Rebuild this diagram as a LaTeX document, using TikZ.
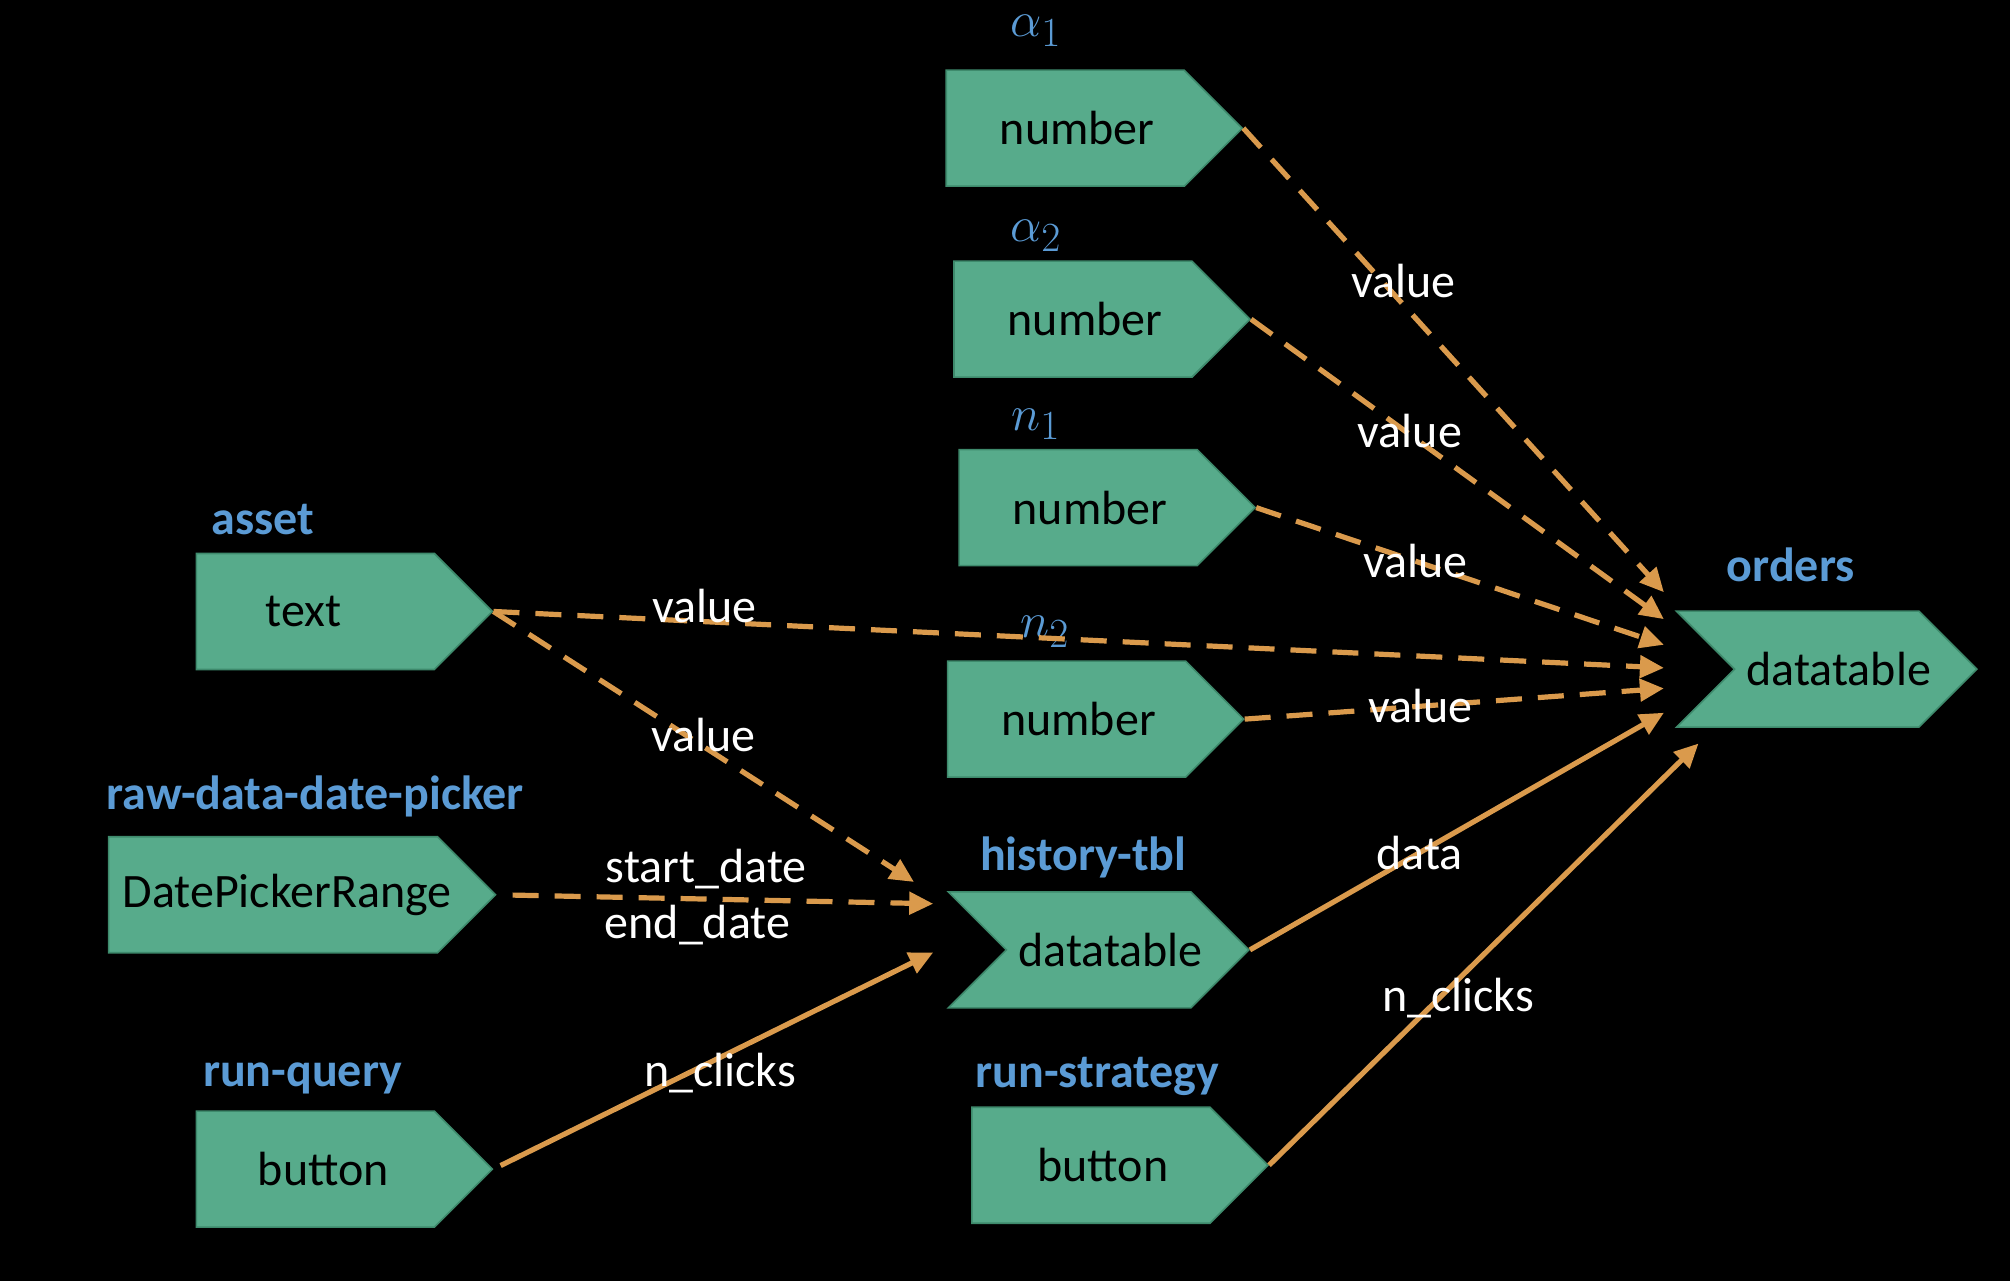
\documentclass[tikz,border=0pt]{standalone}
\usepackage{fontspec}
\setmainfont{Carlito}
\usetikzlibrary{shapes.symbols,arrows.meta}
\definecolor{boxgreen}{RGB}{87,171,139}
\definecolor{boxedge}{RGB}{62,138,108}
\definecolor{wire}{RGB}{218,154,76}
\definecolor{idblue}{RGB}{91,155,213}
\begin{document}
\begin{tikzpicture}[x=0.641pt,y=-0.641pt,font=\fontsize{24}{28}\selectfont,
  >={Triangle[length=12pt,width=11pt]},
  compbox/.style={signal,signal to=east,signal pointer angle=90,fill=boxgreen,draw=boxedge,
    line width=0.8pt,minimum height=58pt,minimum width=148pt,inner sep=0pt,text=black},
  tblbox/.style={compbox,signal from=west},
  textshift/.style={execute at begin node={\hspace*{#1}},execute at end node={\hspace*{-#1}}},
  idlbl/.style={text=idblue,font=\fontsize{24}{28}\selectfont\bfseries},
  symlbl/.style={text=idblue,inner sep=0pt,font=\fontsize{29}{32}\selectfont},
  dep/.style={->,wire,line width=2.6pt,dash pattern=on 13pt off 8pt},
  trig/.style={->,wire,line width=2.6pt},
  lbl/.style={text=white}]
  \fill[black] (0,0) rectangle (1568,999);
  \useasboundingbox (0,0) rectangle (1568,999);

  % inputs
  \node[compbox,textshift=6pt] (a1) at (831,100) {number};
  \node[compbox,textshift=6pt] (a2) at (837,249) {number};
  \node[compbox,textshift=6pt] (n1) at (841,396) {number};
  \node[compbox,textshift=6pt] (n2) at (832,561) {number};
  \node[compbox,textshift=-6pt] (asset) at (246,477) {text};
  \node[compbox,textshift=7pt,minimum width=193pt] (dates) at (213,698) {DatePickerRange};
  \node[compbox,textshift=4pt] (runq) at (246,912) {button};
  \node[compbox,textshift=6pt] (runs) at (851,909) {button};
  % tables
  \node[tblbox,textshift=6pt] (hist) at (857,741) {datatable};
  \node[tblbox,textshift=6pt] (orders) at (1425,522) {datatable};

  % ids
  \node[symlbl] (a1id) at (808,24) {$\alpha_1$};
  \node[symlbl] (a2id) at (808,184) {$\alpha_2$};
  \node[symlbl] (n1id) at (808,331) {$n_1$};
  \node[symlbl] (n2id) at (815,493) {$n_2$};
  \node[idlbl] (assetid) at (205,405) {asset};
  \node[idlbl] (datesid) at (246,621) {raw-data-date-picker};
  \node[idlbl] (runqid) at (236,841) {run-query};
  \node[idlbl] (histid) at (845,669) {history-tbl};
  \node[idlbl] (runsid) at (856,840) {run-strategy};
  \node[idlbl] (ordersid) at (1397,441) {orders};

  % arrow ends
  \coordinate (o1) at (1298,462);
  \coordinate (o2) at (1298,483);
  \coordinate (o3) at (1298,503);
  \coordinate (o4) at (1298,521);
  \coordinate (o5) at (1298,537);
  \coordinate (o6) at (1298,556);
  \coordinate (o7) at (1325,580);
  \coordinate (h1) at (713,688);
  \coordinate (h2) at (728,705);
  \coordinate (h3) at (728,743);

  \draw[dep] (a1.east) -- (o1) node[lbl,pos=0.38,yshift=12pt] {value};
  \draw[dep] (a2.east) -- (o2) node[lbl,pos=0.385,yshift=2pt] {value};
  \draw[dep] (n1.east) -- (o3) node[lbl,pos=0.39] {value};
  \draw[dep] (asset.east) -- (o4) node[lbl,pos=0.18,yshift=8pt] {value};
  \draw[dep] (n2.east) -- (o5) node[lbl,pos=0.42] {value};
  \draw[dep] (asset.east) -- (h1) node[lbl,pos=0.5,yshift=6pt] {value};
  \draw[dep,shorten <=8pt] (dates.east) -- (h2)
    node[lbl,pos=0.48,yshift=15pt] {start\_date}
    node[lbl,pos=0.46,yshift=-13pt] {end\_date};
  \draw[trig,shorten <=4pt] (runq.east) -- (h3) node[lbl,pos=0.515,yshift=-8pt] {n\_clicks};
  \draw[trig] (hist.east) -- (o6) node[lbl,pos=0.41] {data};
  \draw[trig] (runs.east) -- (o7) node[lbl,pos=0.44,yshift=-9pt] {n\_clicks};
\end{tikzpicture}
\end{document}
